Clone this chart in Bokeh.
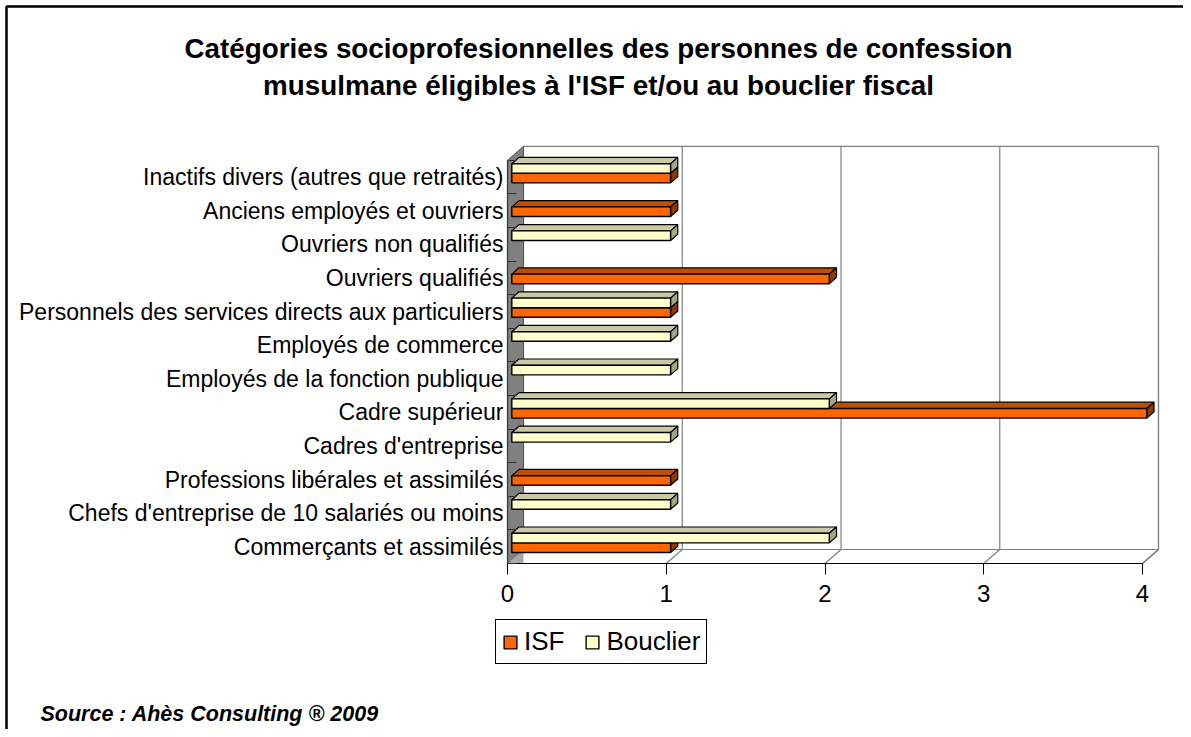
from bokeh.plotting import figure
from bokeh.models import Range1d, FixedTicker, Label, Legend, LegendItem, BoxAnnotation
from bokeh.embed import file_html
from bokeh.resources import INLINE

# ---------------- data ----------------
categories = [
    "Commerçants et assimilés",
    "Chefs d'entreprise de 10 salariés ou moins",
    "Professions libérales et assimilés",
    "Cadres d'entreprise",
    "Cadre supérieur",
    "Employés de la fonction publique",
    "Employés de commerce",
    "Personnels des services directs aux particuliers",
    "Ouvriers qualifiés",
    "Ouvriers non qualifiés",
    "Anciens employés et ouvriers",
    "Inactifs divers (autres que retraités)",
]
isf = [1, 0, 1, 0, 4, 0, 0, 1, 2, 0, 1, 1]
bouclier = [2, 1, 0, 1, 2, 1, 1, 1, 0, 1, 0, 1]
x_ticks = [0, 1, 2, 3, 4]
series_names = ["ISF", "Bouclier"]
title_lines = [
    "Catégories socioprofesionnelles des personnes de confession",
    "musulmane éligibles à l'ISF et/ou au bouclier fiscal",
]
source_text = "Source : Ahès Consulting ® 2009"

# ---------------- layout ----------------
W, H = 1183, 729
ORIG_X = 507           # pixel of value 0 (front plane)
ORIG_Y = 563           # pixel of floor front edge
PX_X = 158.75          # pixels per unit of value
PX_Y = 33.6            # pixels per category
N = len(categories)
XMAX = x_ticks[-1]

def ax(px):  # pixel -> data x
    return (px - ORIG_X) / PX_X

def ay(py):  # pixel -> data y
    return (ORIG_Y - py) / PX_Y

DX = 16 / PX_X   # depth offset of the 3D box
DY = 14 / PX_Y
F0, F1 = 0.27, 0.72   # bar depth span
BAR_H = 9.6 / PX_Y

FONT = "Liberation Sans"

p = figure(width=W, height=H, x_range=Range1d(ax(0), ax(W)), y_range=Range1d(ay(H), ay(0)),
           output_backend="svg", toolbar_location=None,
           min_border_left=0, min_border_right=0, min_border_top=0, min_border_bottom=0)
p.outline_line_color = None
p.background_fill_color = "white"
p.border_fill_color = "white"
p.xgrid.visible = False
p.ygrid.visible = False

WALL = "#808080"
# back wall
p.patch([DX, XMAX + DX, XMAX + DX, DX], [DY, DY, N + DY, N + DY],
        fill_color="white", line_color=WALL, line_width=1.2)
# floor
p.patch([0, XMAX, XMAX + DX, DX], [0, 0, DY, DY],
        fill_color="white", line_color=WALL, line_width=1.2)
# gridlines on back wall and floor
gx = [t + DX for t in x_ticks[1:]]
p.segment(x0=gx, y0=[DY] * len(gx), x1=gx, y1=[N + DY] * len(gx),
          line_color=WALL, line_width=1.2)
p.segment(x0=x_ticks[1:], y0=[0] * len(gx), x1=gx, y1=[DY] * len(gx),
          line_color=WALL, line_width=1.2)
# left side wall
p.patch([0, 0, DX, DX], [0, N, N + DY, DY],
        fill_color="#808080", line_color="#555555", line_width=1)
p.patch([0, DX, DX], [0, DY, 0.0], fill_color="#a8a8a8", line_color=None)

# ---------------- 3D bars ----------------
colors = {
    "ISF": ("#FF6600", "#C04E00", "#8C3A00"),
    "Bouclier": ("#FFFFCC", "#C9C9A6", "#A5A585"),
}
renderers = {}
for name, vals, sgn in (("ISF", isf, -1), ("Bouclier", bouclier, 1)):
    front, top, side = colors[name]
    ys, rights = [], []
    top_xs, top_ys, side_xs, side_ys = [], [], [], []
    d = F1 - F0
    for i, v in enumerate(vals):
        if v <= 0:
            continue
        yc = i + 0.5 + sgn * BAR_H / 2 + F0 * DY
        L = F0 * DX
        R = v + F0 * DX
        T = yc + BAR_H / 2
        B = yc - BAR_H / 2
        ys.append(yc)
        rights.append(R)
        top_xs.append([L, R, R + d * DX, L + d * DX])
        top_ys.append([T, T, T + d * DY, T + d * DY])
        side_xs.append([R, R, R + d * DX, R + d * DX])
        side_ys.append([B, T, T + d * DY, B + d * DY])
    p.patches(top_xs, top_ys, fill_color=top, line_color="black", line_width=1.2)
    p.patches(side_xs, side_ys, fill_color=side, line_color="black", line_width=1.2)
    r = p.hbar(y=ys, left=F0 * DX, right=rights, height=BAR_H,
               fill_color=front, line_color="black", line_width=1.4)
    renderers[name] = r

# ---------------- axes ----------------
xa = p.xaxis[0]
xa.fixed_location = 0
xa.ticker = FixedTicker(ticks=x_ticks, minor_ticks=[])
xa.bounds = (0, XMAX)
xa.axis_line_color = "black"
xa.axis_line_width = 1.2
xa.major_tick_out = 11
xa.major_tick_in = 0
xa.major_tick_line_color = "black"
xa.minor_tick_line_color = None
xa.major_label_standoff = 10
xa.major_label_text_font = FONT
xa.major_label_text_font_size = "24px"
xa.major_label_text_color = "black"

ya = p.yaxis[0]
ya.fixed_location = 0
centers = [i + 0.5 for i in range(N)]
ya.ticker = FixedTicker(ticks=centers, minor_ticks=list(range(N + 1)))
ya.major_label_overrides = {c: lab for c, lab in zip(centers, categories)}
ya.bounds = (0, N)
ya.axis_line_color = "#333333"
ya.axis_line_width = 1.2
ya.major_tick_in = 0
ya.major_tick_out = 0
ya.minor_tick_in = 9
ya.minor_tick_out = 0
ya.minor_tick_line_color = "#333333"
ya.major_label_standoff = 4
ya.major_label_text_font = FONT
ya.major_label_text_font_size = "23px"
ya.major_label_text_color = "black"

# ---------------- legend ----------------
legend = Legend(
    items=[LegendItem(label=n, renderers=[renderers[n]]) for n in series_names],
    orientation="horizontal",
    location=(495, H - 664),
    label_text_font=FONT, label_text_font_size="26px", label_text_color="black",
    glyph_width=16, glyph_height=16, label_standoff=6, spacing=20,
    padding=6, margin=0, border_line_color="black", border_line_width=1.2,
    border_line_alpha=1,
    background_fill_color="white", background_fill_alpha=1,
)
p.add_layout(legend, "center")

# ---------------- texts ----------------
for line, yy in zip(title_lines, (48, 85)):
    p.add_layout(Label(x=ax(598), y=ay(yy), text=line, text_font=FONT,
                       text_font_style="bold", text_font_size="27.8px",
                       text_align="center", text_baseline="middle",
                       text_color="black"))
p.add_layout(Label(x=ax(40), y=ay(713), text=source_text, text_font=FONT,
                   text_font_style="bold italic", text_font_size="21.5px",
                   text_align="left", text_baseline="middle", text_color="black"))

# outer frame (its right and bottom edges lie beyond the picture)
p.add_layout(BoxAnnotation(left=ax(6), right=ax(1400), top=ay(6), bottom=ay(1000),
                           fill_alpha=0, line_color="black", line_alpha=1,
                           line_width=2.5))

open("out.html", "w").write(file_html(p, INLINE))
